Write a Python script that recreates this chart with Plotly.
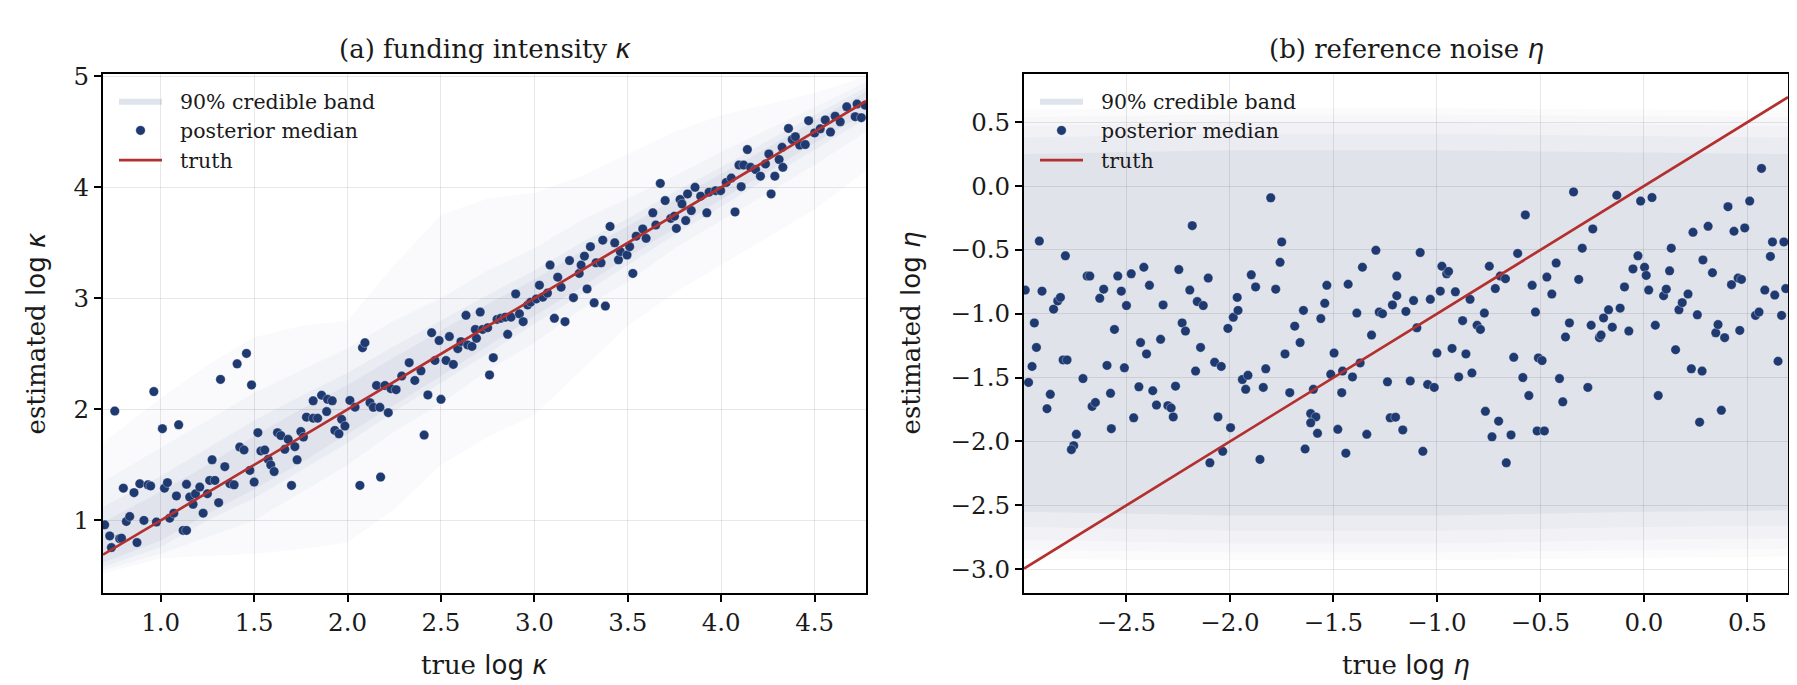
import plotly.graph_objects as go

# ---------------- data: panel (a) funding intensity kappa ----------------
kappa_true = [0.70,0.727,0.736,0.754,0.78,0.79,0.80,0.816,0.834,0.857,0.873,0.888,0.91,0.932,0.946,0.963,0.977,
 1.009,1.02,1.036,1.048,1.07,1.084,1.096,1.12,1.138,1.138,1.155,1.173,1.186,1.209,1.227,1.25,1.262,1.275,1.29,
 1.31,1.32,1.343,1.37,1.393,1.409,1.423,1.446,1.459,1.477,1.486,1.50,1.52,1.536,1.557,1.575,1.589,1.607,1.625,
 1.643,1.664,1.682,1.70,1.718,1.73,1.75,1.764,1.78,1.816,1.816,1.84,1.861,1.888,1.893,1.918,1.932,1.954,1.968,
 1.986,2.0125,2.04,2.066,2.08,2.093,2.12,2.138,2.155,2.173,2.177,2.2,2.218,2.232,2.26,2.29,2.33,2.36,
 2.393,2.41,2.43,2.45,2.468,2.49,2.50,2.527,2.545,2.566,2.59,2.607,2.634,2.643,2.666,2.684,2.69,2.71,2.723,
 2.75,2.76,2.78,2.80,2.82,2.845,2.857,2.875,2.90,2.92,2.94,2.964,2.98,3.01,3.027,3.045,3.07,3.084,3.107,3.125,
 3.143,3.164,3.188,3.209,3.24,3.25,3.268,3.282,3.30,3.32,3.33,3.357,3.366,3.38,3.405,3.43,3.45,3.46,3.496,
 3.51,3.527,3.545,3.58,3.598,3.634,3.65,
 3.674,3.70,3.73,3.75,3.76,3.78,3.79,3.81,3.82,3.84,3.86,3.89,3.923,3.935,3.97,3.997,4.027,4.054,4.074,4.095,
 4.107,4.12,4.14,4.157,4.184,4.21,4.237,4.255,4.267,4.287,4.31,4.326,4.33,4.36,4.38,4.397,4.42,4.45,4.468,
 4.50,4.53,4.557,4.585,4.61,4.637,4.672,4.717,4.727,4.75,4.77]
kappa_est = [0.96,0.86,0.755,1.985,0.835,0.84,1.29,0.99,1.035,1.25,0.80,1.33,1.0,1.32,1.31,2.16,0.985,
 1.826,1.29,1.34,1.02,1.065,1.22,1.861,0.91,0.91,1.325,1.21,1.145,1.24,1.30,1.065,1.24,1.36,1.546,1.36,
 1.16,2.27,1.484,1.33,1.32,2.41,1.66,1.634,2.504,1.45,2.22,1.345,1.79,1.625,1.634,1.55,1.50,1.44,1.79,
 1.764,1.64,1.73,1.315,1.664,1.546,1.80,1.75,1.93,2.077,1.92,1.92,2.127,1.98,2.09,2.077,1.81,1.78,1.91,
 1.85,2.08,2.02,1.315,2.555,2.60,2.06,2.018,2.215,2.018,1.39,2.215,1.97,2.186,2.177,2.30,2.42,2.26,
 2.347,1.768,2.13,2.69,2.44,2.62,2.09,2.44,2.656,2.405,2.547,2.61,2.847,2.58,2.567,2.72,2.64,2.876,2.72,
 2.735,2.31,2.465,2.81,2.82,2.83,2.676,2.83,3.04,2.86,2.79,2.94,2.965,2.994,3.118,3.01,3.047,3.30,2.82,3.19,
 3.10,2.79,3.34,3.006,3.224,3.30,3.38,3.085,3.465,2.96,3.32,3.32,3.524,2.93,3.647,3.50,3.347,3.42,3.39,
 3.465,3.224,3.56,3.625,3.54,3.77,3.66,
 4.035,3.88,3.72,3.74,3.63,3.89,3.85,3.70,3.94,3.79,4.0,3.92,3.77,3.956,3.97,3.97,4.044,4.083,3.778,4.20,
 4.006,4.20,4.34,4.18,4.16,4.10,4.21,4.30,3.94,4.10,4.25,4.36,4.18,4.53,4.43,4.456,4.38,4.385,4.60,
 4.49,4.527,4.607,4.497,4.64,4.59,4.725,4.636,4.75,4.627,4.74]

# 90% credible band (read coarsely, four density layers from faint to dense)
kappa_band_x   = [0.691, 1.0, 1.25, 1.5, 1.75, 2.0, 2.25, 2.5, 2.75, 3.0, 3.25, 3.5, 3.75, 4.0, 4.25, 4.5, 4.775]
kappa_l1_lo    = [0.52, 0.66, 0.68, 0.70, 0.74, 0.80, 1.10, 1.50, 1.75, 1.95, 2.35, 2.75, 3.05, 3.30, 3.55, 3.80, 4.15]
kappa_l1_hi    = [1.70, 2.10, 2.40, 2.65, 2.75, 2.80, 3.30, 3.75, 3.90, 3.95, 4.10, 4.30, 4.50, 4.65, 4.75, 4.85, 5.00]
kappa_l2_lo    = [0.55, 0.70, 0.85, 1.00, 1.25, 1.50, 1.80, 2.05, 2.35, 2.60, 2.90, 3.15, 3.45, 3.70, 3.95, 4.20, 4.50]
kappa_l2_hi    = [1.35, 1.65, 1.90, 2.15, 2.35, 2.55, 2.80, 3.00, 3.25, 3.45, 3.70, 3.90, 4.10, 4.32, 4.52, 4.72, 4.95]
kappa_l3_lo    = [0.58, 0.76, 1.00, 1.20, 1.45, 1.70, 1.98, 2.24, 2.50, 2.77, 3.03, 3.30, 3.57, 3.83, 4.08, 4.34, 4.62]
kappa_l3_hi    = [1.12, 1.40, 1.65, 1.90, 2.12, 2.33, 2.57, 2.80, 3.03, 3.25, 3.50, 3.72, 3.96, 4.18, 4.42, 4.65, 4.90]
kappa_l4_lo    = [0.62, 0.82, 1.06, 1.28, 1.52, 1.78, 2.04, 2.30, 2.57, 2.84, 3.10, 3.37, 3.63, 3.89, 4.14, 4.40, 4.67]
kappa_l4_hi    = [0.98, 1.26, 1.50, 1.76, 2.00, 2.22, 2.47, 2.71, 2.95, 3.17, 3.42, 3.65, 3.89, 4.12, 4.36, 4.60, 4.86]
kappa_truth    = [0.691, 4.775]

# ---------------- data: panel (b) reference noise eta ----------------
eta_true = [-2.989,-2.973,-2.956,-2.945,-2.935,-2.921,-2.908,-2.884,-2.868,-2.852,-2.832,-2.819,-2.806,-2.787,
 -2.795,-2.71,-2.69,-2.677,-2.666,-2.65,-2.629,-2.61,-2.594,-2.577,-2.558,-2.542,-2.525,-2.51,-2.50,-2.477,
 -2.465,-2.44,-2.432,-2.416,-2.403,-2.389,-2.373,-2.355,-2.335,-2.323,-2.30,-2.284,-2.274,-2.263,-2.247,-2.231,
 -2.215,-2.194,-2.182,-2.166,-2.158,-2.142,-2.129,-2.105,-2.074,-2.058,-2.042,-2.01,-1.984,-1.961,-1.965,-1.94,
 -1.924,-1.913,-1.897,-1.876,-1.839,-1.827,-1.803,-1.779,-1.758,-1.75,-1.734,-1.711,-1.687,-1.661,-1.645,-1.61,
 -1.597,-1.585,-1.561,-1.542,-1.532,-1.497,-1.513,-1.46,-1.456,-1.429,-1.408,-1.387,-1.371,-1.36,-1.316,-1.295,
 -1.279,-1.263,-1.239,-1.226,-1.215,-1.194,-1.194,
 -2.742,-2.755,-2.766,-2.573,-1.997,-2.097,-2.035,-1.855,-1.61,-1.577,-1.637,-1.479,-1.44,-1.339,-1.20,-1.165,
 -1.15,-1.129,-1.113,-1.097,-1.081,-1.045,-1.032,-1.013,-1.0,-0.984,-0.976,-0.953,-0.944,-0.927,-0.911,-0.895,
 -0.876,-0.86,-0.84,-0.831,-0.806,-0.79,-0.771,-0.766,-0.747,-0.718,-0.702,-0.694,-0.669,-0.629,-0.61,-0.585,
 -0.573,-0.556,-0.54,-0.524,-0.51,-0.492,-0.469,-0.445,-0.424,-0.408,-0.392,-0.379,-0.36,-0.34,-0.315,-0.298,
 -0.271,-0.255,-0.247,-0.215,-0.207,-0.195,-0.171,-0.153,-0.131,-0.115,-0.094,-0.073,-0.053,-0.029,-0.016,
 0.003,0.011,0.023,0.039,0.055,0.069,0.095,0.108,0.124,0.132,0.153,0.169,0.185,0.213,0.229,0.237,0.258,0.269,
 0.281,0.285,0.31,0.331,0.347,0.358,0.374,0.39,0.406,0.423,0.435,0.455,0.471,0.463,0.487,0.511,0.539,0.556,
 0.568,0.584,0.611,0.621,0.632,0.648,0.665,0.676,0.685,
 -1.068,-0.734,-0.642,-0.665,-0.516,-0.481]
eta_est = [-0.815,-1.538,-1.413,-1.072,-1.264,-0.431,-0.823,-1.744,-1.631,-0.964,-0.90,-0.872,-1.362,-1.362,
 -0.546,-1.508,-0.705,-0.705,-1.726,-1.695,-0.879,-0.808,-1.405,-1.623,-1.123,-0.705,-0.823,-1.423,-0.936,-0.687,
 -1.815,-1.572,-1.226,-0.636,-1.315,-0.777,-1.603,-1.715,-1.20,-0.931,-1.72,-1.738,-1.808,-1.567,-0.654,-1.072,
 -1.136,-0.815,-0.31,-1.449,-0.905,-1.264,-0.936,-0.721,-1.38,-1.808,-1.413,-1.115,-1.028,-0.974,-0.872,-1.515,
 -1.592,-1.482,-0.695,-0.79,-1.577,-1.431,-0.092,-0.808,-0.597,-0.438,-1.315,-1.618,-1.097,-1.226,-0.974,-1.782,
 -1.592,-1.808,-1.038,-0.918,-0.777,-1.308,-1.474,-1.618,-1.449,-0.769,-1.495,-0.995,-1.385,-0.636,-1.167,-0.503,
 -0.987,-1.0,-1.533,-1.815,-0.931,-0.705,-0.859,
 -1.944,-2.033,-2.064,-1.90,-1.892,-2.167,-2.077,-2.141,-1.854,-1.936,-2.059,-1.905,-2.092,-1.944,-1.81,-1.91,
 -0.982,-1.526,-0.897,-1.11,-0.521,-1.554,-0.887,-1.577,-1.308,-0.823,-0.628,-0.687,-0.669,-1.272,-0.828,-1.495,
 -1.054,-1.315,-0.887,-1.464,-1.09,-1.123,-0.995,-1.764,-0.628,-0.803,-1.841,-0.705,-0.726,-1.341,-0.528,-1.50,
 -0.226,-1.641,-0.777,-0.987,-1.346,-1.367,-0.713,-0.846,-0.603,-1.508,-1.69,-1.182,-1.072,-0.046,-0.731,-0.487,
 -1.577,-1.09,-0.336,-1.187,-1.167,-1.033,-0.969,-1.105,-0.072,-0.956,-0.79,-1.136,-0.649,-0.546,-0.118,
 -0.636,-0.70,-0.815,-0.09,-1.09,-1.641,-0.859,-0.808,-0.664,-0.487,-1.282,-0.969,-0.913,-0.846,-1.431,-0.362,
 -1.008,-1.849,-1.449,-0.579,-0.315,-0.679,-1.149,-1.085,-1.756,-1.187,-0.162,-0.772,-0.354,-0.721,-0.731,-1.131,
 -0.328,-0.118,-1.013,-0.987,0.138,-0.815,-0.551,-0.438,-0.854,-1.372,-1.013,-0.438,-0.803,
 -2.077,-1.964,-1.949,-2.167,-1.918,-1.918]

eta_band_x = [-2.995, -2.0, -1.0, 0.0, 0.696]
eta_l1_lo  = [-2.92, -2.93, -2.93, -2.91, -2.90]
eta_l1_hi  = [0.60, 0.61, 0.61, 0.60, 0.59]
eta_l2_lo  = [-2.85, -2.87, -2.87, -2.85, -2.84]
eta_l2_hi  = [0.54, 0.56, 0.56, 0.55, 0.54]
eta_l3_lo  = [-2.77, -2.80, -2.80, -2.77, -2.76]
eta_l3_hi  = [0.47, 0.50, 0.50, 0.48, 0.47]
eta_l4_lo  = [-2.67, -2.70, -2.70, -2.67, -2.66]
eta_l4_hi  = [0.38, 0.41, 0.41, 0.39, 0.38]
eta_l5_lo  = [-2.55, -2.58, -2.58, -2.55, -2.54]
eta_l5_hi  = [0.25, 0.28, 0.28, 0.26, 0.25]
eta_truth  = [-2.995, 0.696]

# ---------------- styling ----------------
NAVY = "#1f3a70"
RED = "#b3302f"
BAND_RGB = "31,59,115"
SERIF = "DejaVu Serif"
W, H = 1797, 685
SP = "\u00a0\u00a0"

fig = go.Figure()

def add_band(x, lo, hi, alpha, xa, ya):
    fig.add_trace(go.Scatter(
        x=list(x) + list(x)[::-1], y=list(hi) + list(lo)[::-1],
        fill="toself", fillcolor=f"rgba({BAND_RGB},{alpha})",
        line=dict(width=0), mode="lines", hoverinfo="skip",
        showlegend=False, xaxis=xa, yaxis=ya))

def add_panel(xa, ya, legend, bx, layers, xs, ys, truth):
    for lo, hi, a in layers:
        add_band(bx, lo, hi, a, xa, ya)
    fig.add_trace(go.Scatter(x=[None], y=[None], fill="toself",
        fillcolor=f"rgba({BAND_RGB},0.14)", line=dict(width=0), mode="lines",
        name=SP + "90% credible band", legend=legend, xaxis=xa, yaxis=ya))
    fig.add_trace(go.Scatter(x=xs, y=ys, mode="markers", name=SP + "posterior median",
        marker=dict(color=NAVY, size=9.5, line=dict(width=0.6, color="rgba(255,255,255,0.55)")),
        legend=legend, xaxis=xa, yaxis=ya))
    fig.add_trace(go.Scatter(x=truth, y=truth, mode="lines", name=SP + "truth",
        line=dict(color=RED, width=2.7), legend=legend, xaxis=xa, yaxis=ya))

add_panel("x", "y", "legend", kappa_band_x,
          [(kappa_l1_lo, kappa_l1_hi, 0.025), (kappa_l2_lo, kappa_l2_hi, 0.03),
           (kappa_l3_lo, kappa_l3_hi, 0.04), (kappa_l4_lo, kappa_l4_hi, 0.05)],
          kappa_true, kappa_est, kappa_truth)
add_panel("x2", "y2", "legend2", eta_band_x,
          [(eta_l1_lo, eta_l1_hi, 0.02), (eta_l2_lo, eta_l2_hi, 0.02),
           (eta_l3_lo, eta_l3_hi, 0.025), (eta_l4_lo, eta_l4_hi, 0.03),
           (eta_l5_lo, eta_l5_hi, 0.05)],
          eta_true, eta_est, eta_truth)

def ax(domain, rng, tickvals, fmt, anchor):
    return dict(domain=domain, range=rng, tickvals=tickvals, tickformat=fmt,
                showline=True, linecolor="black", linewidth=2, mirror=True,
                ticks="outside", ticklen=7, tickwidth=1.8, tickcolor="black",
                showgrid=True, gridcolor="rgba(0,0,0,0.09)", gridwidth=1.4,
                zeroline=False, anchor=anchor,
                tickfont=dict(family=SERIF, size=24.5, color="#1a1a1a"))

yd = [(H - 583) / H, (H - 55) / H]
leg = dict(yanchor="top", xanchor="left", bgcolor="rgba(255,255,255,0)", borderwidth=0,
           itemwidth=43, font=dict(family=SERIF, size=20.5, color="#1a1a1a"), tracegroupgap=0)
fig.update_layout(
    width=W, height=H, margin=dict(l=0, r=0, t=0, b=0),
    paper_bgcolor="white", plot_bgcolor="white",
    xaxis=ax([95 / W, 858 / W], [0.691, 4.775], [1.0, 1.5, 2.0, 2.5, 3.0, 3.5, 4.0, 4.5], ".1f", "y"),
    yaxis=ax(yd, [0.348, 5.02], [1, 2, 3, 4, 5], "d", "x"),
    xaxis2=ax([1016 / W, 1780 / W], [-2.995, 0.696], [-2.5, -2.0, -1.5, -1.0, -0.5, 0.0, 0.5], ".1f", "y2"),
    yaxis2=ax(yd, [-3.185, 0.877], [-3.0, -2.5, -2.0, -1.5, -1.0, -0.5, 0.0, 0.5], ".1f", "x2"),
    legend=dict(leg, x=106 / W, y=(H - 62) / H),
    legend2=dict(leg, x=1027 / W, y=(H - 62) / H),
    showlegend=True,
)

SANS = 'font-family:DejaVu Sans'
def lab(prefix, sym):
    return f'{prefix}<span style="{SANS}">{sym}</span>'

ann = [
    (476.5, 30, lab("(a) funding intensity ", "<i>κ</i>"), 0),
    (1398, 30, lab("(b) reference noise ", "<i>η</i>"), 0),
    (476.5, 656, lab("true ", "log <i>κ</i>"), 0),
    (1398, 656, lab("true ", "log <i>η</i>"), 0),
    (28, 319, lab("estimated ", "log <i>κ</i>"), -90),
    (903, 319, lab("estimated ", "log <i>η</i>"), -90),
]
for X, Y, txt, ang in ann:
    fig.add_annotation(x=X / W, y=(H - Y) / H, xref="paper", yref="paper", text=txt,
                       showarrow=False, textangle=ang, xanchor="center", yanchor="middle",
                       font=dict(family=SERIF, size=26, color="#1a1a1a"))

fig.write_html("out.html")
